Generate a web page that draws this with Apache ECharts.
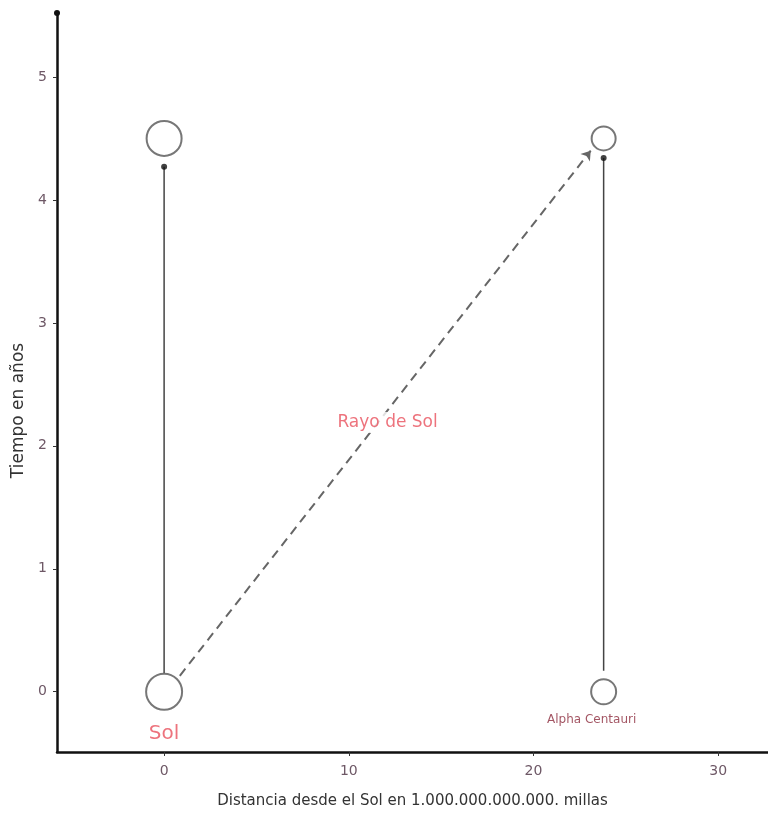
<!DOCTYPE html>
<html><head><meta charset="utf-8">
<script src="https://cdn.jsdelivr.net/npm/echarts@6/dist/echarts.min.js"></script>
<style>html,body{margin:0;padding:0;background:#fff}#c{width:768px;height:817px}</style>
</head><body><div id="c"></div>
<script>
const xTicks = [0, 10, 20, 30];
const yTicks = [0, 1, 2, 3, 4, 5];
const bodyNames = ['Sol', 'Alpha Centauri'];
const bodyX = [0, 23.8];
const startY = [0, 0];
const endY = [4.5, 4.5];
const worldLineX = [0, 23.8];
const worldLineFrom = [0.15, 0.17];
const worldLineTo = [4.27, 4.34];
const rayFrom = [0.85, 0.13];
const rayTo = [23.1, 4.4];
const rayLabel = 'Rayo de Sol';
const rayLabelPos = [12.1, 2.19];

const FONT = 'DejaVu Sans';
const chart = echarts.init(document.getElementById('c'));
const circleStyle = {color: '#fff', borderColor: '#555', borderWidth: 2};
const series = [];
worldLineX.forEach((x, i) => {
  series.push({type: 'line', data: [[x, worldLineFrom[i]], [x, worldLineTo[i]]], showSymbol: false,
    lineStyle: {color: '#444', width: 1.5}, z: 2, silent: true});
});
series.push({type: 'scatter', data: worldLineX.map((x, i) => [x, worldLineTo[i]]), symbolSize: 6,
  itemStyle: {color: '#111'}, z: 4});
series.push({type: 'lines', coordinateSystem: 'cartesian2d', data: [{coords: [rayFrom, rayTo]}],
  symbol: ['none', 'arrow'], symbolSize: 9,
  lineStyle: {color: '#666', width: 2, type: [9, 6], opacity: 1}, z: 3});
series.push({type: 'scatter', data: [
  {value: [bodyX[0], startY[0]], symbolSize: 36, label: {show: true, formatter: bodyNames[0], position: 'bottom', distance: 13, color: '#e8505c', fontSize: 20, fontFamily: FONT}},
  {value: [bodyX[1], startY[1]], symbolSize: 25, label: {show: true, formatter: bodyNames[1], position: 'bottom', distance: 9, offset: [-12, 0], color: '#8c2a3c', fontSize: 12, fontFamily: FONT}}
], itemStyle: circleStyle, z: 5});
series.push({type: 'scatter', data: [
  {value: [bodyX[0], endY[0]], symbolSize: 35},
  {value: [bodyX[1], endY[1]], symbolSize: 24}
], itemStyle: circleStyle, z: 5});
series.push({type: 'scatter', data: [rayLabelPos], symbolSize: 1, itemStyle: {color: 'transparent'},
  label: {show: true, formatter: rayLabel, position: 'inside', color: '#e8505c', fontSize: 17, fontFamily: FONT,
    backgroundColor: '#fff', padding: [2, 3]}, z: 6});

chart.setOption({
  animation: false,
  grid: {left: 57, right: 0, top: 13, bottom: 65, containLabel: false},
  xAxis: {type: 'value', min: -5.8, max: 32.7,
    name: 'Distancia desde el Sol en 1.000.000.000.000. millas', nameLocation: 'middle', nameGap: 42,
    nameTextStyle: {color: '#333', fontSize: 15, fontFamily: FONT},
    axisLine: {show: true, onZero: false, lineStyle: {color: '#111', width: 2.5}},
    axisTick: {show: true, customValues: xTicks, length: 4, lineStyle: {color: '#333'}},
    axisLabel: {customValues: xTicks, margin: 12, color: '#6e5866', fontSize: 14, fontFamily: FONT},
    splitLine: {show: false}},
  yAxis: {type: 'value', min: -0.49, max: 5.52,
    name: 'Tiempo en años', nameLocation: 'middle', nameGap: 30,
    nameTextStyle: {color: '#333', fontSize: 17, fontFamily: FONT, padding: [0, 56, 0, 0]},
    axisLine: {show: true, onZero: false, symbol: ['none', 'circle'], symbolSize: [6, 6], lineStyle: {color: '#111', width: 2.5}},
    axisTick: {show: true, customValues: yTicks, length: 4, lineStyle: {color: '#333'}},
    axisLabel: {customValues: yTicks, margin: 10, color: '#6e5866', fontSize: 14, fontFamily: FONT},
    splitLine: {show: false}},
  series: series
});
</script></body></html>
